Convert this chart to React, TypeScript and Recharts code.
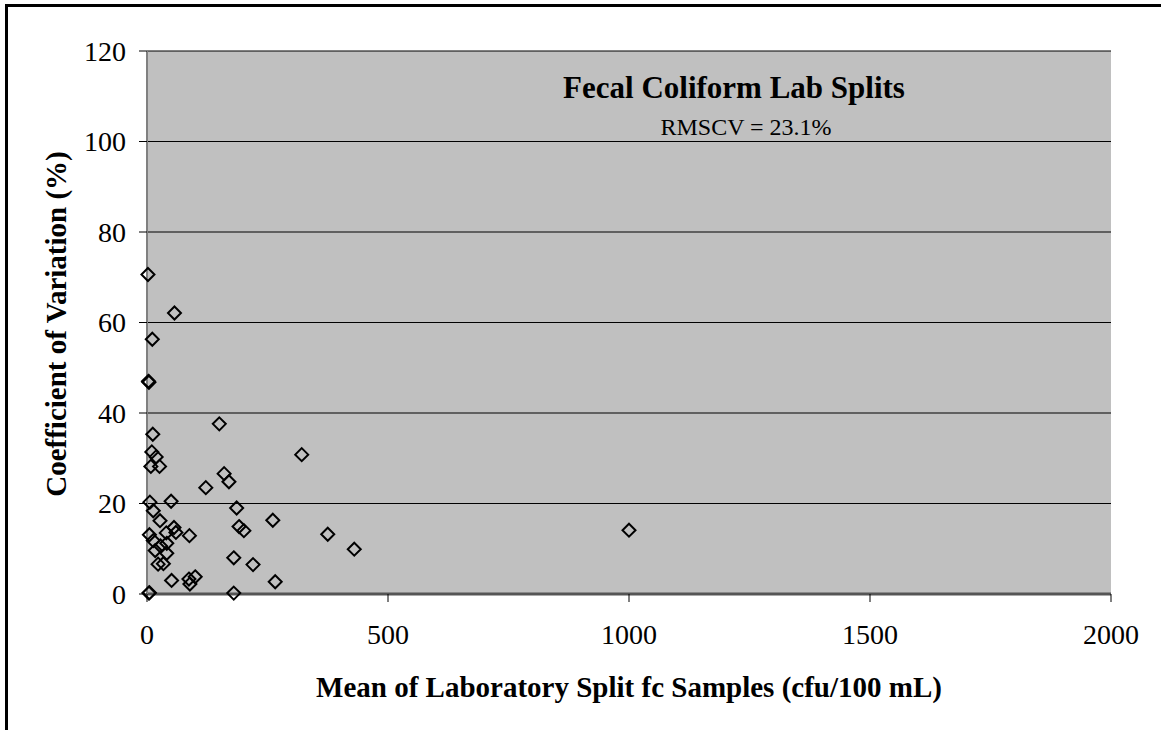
import { ScatterChart, Scatter, XAxis, YAxis, CartesianGrid, Label } from "recharts";

// mean of the lab split pair (cfu/100 mL)
const meanFc = [
  2, 57, 11, 3, 4, 150, 12, 10, 19, 321, 8, 26, 160, 170, 122, 6, 50, 13, 186,
  27, 261, 191, 201, 56, 40, 60, 88, 5, 375, 1000, 13, 41, 28, 17, 41, 430, 180,
  23, 34, 220, 51, 87, 100, 89, 266, 4, 5, 180,
];

// coefficient of variation (%)
const cvPct = [
  70.6, 62.1, 56.3, 47.0, 46.8, 37.6, 35.3, 31.4, 30.3, 30.8, 28.2, 28.2, 26.6,
  24.8, 23.5, 20.3, 20.5, 18.4, 19.0, 16.2, 16.3, 14.9, 14.0, 14.7, 13.5, 13.6,
  12.9, 13.1, 13.2, 14.1, 11.8, 11.2, 10.6, 9.6, 9.0, 9.9, 8.0, 6.6, 6.7, 6.5,
  3.0, 3.3, 3.8, 2.2, 2.7, 0.2, 0.3, 0.2,
];

const xTicks = [0, 500, 1000, 1500, 2000];
const yTicks = [0, 20, 40, 60, 80, 100, 120];

const points = meanFc.map((x, i) => ({ x, cv: cvPct[i] }));

const serif = "'Times New Roman', 'Liberation Serif', serif";

const Diamond = (props: any) => {
  const { cx, cy } = props;
  const r = 6.5;
  return (
    <path
      d={`M${cx},${cy - r}L${cx + r},${cy}L${cx},${cy + r}L${cx - r},${cy}Z`}
      fill="none"
      stroke="#000"
      strokeWidth={2}
    />
  );
};

export default function App() {
  return (
    <div
      style={{
        position: "absolute",
        left: 0,
        top: 0,
        width: 1161,
        height: 730,
        background: "#fff",
        overflow: "hidden",
        fontFamily: serif,
      }}
    >
      <div
        style={{
          position: "absolute",
          left: 5,
          top: 4,
          width: 1300,
          height: 900,
          border: "3px solid #000",
        }}
      />
      <ScatterChart
        width={1161}
        height={730}
        margin={{ top: 51, right: 50, bottom: 76, left: 67 }}
        style={{ position: "absolute", left: 0, top: 0 }}
      >
        <CartesianGrid
          vertical={false}
          stroke="#000"
          strokeWidth={1}
          fill="#c0c0c0"
          fillOpacity={1}
        />
        <XAxis
          type="number"
          dataKey="x"
          domain={[0, 2000]}
          ticks={xTicks}
          height={60}
          axisLine={{ stroke: "#555", strokeWidth: 3 }}
          tickLine={{ stroke: "#000" }}
          tickSize={8}
          tickMargin={22}
          tick={{ fill: "#000", fontSize: 28, fontFamily: serif }}
        >
          <Label
            content={() => (
              <text
                x={629}
                y={697}
                textAnchor="middle"
                fontFamily={serif}
                fontWeight="bold"
                fontSize={29}
                fill="#000"
              >
                Mean of Laboratory Split fc Samples (cfu/100 mL)
              </text>
            )}
          />
        </XAxis>
        <XAxis
          xAxisId="top"
          orientation="top"
          type="number"
          domain={[0, 2000]}
          height={0}
          tick={false}
          tickLine={false}
          axisLine={{ stroke: "#808080", strokeWidth: 2 }}
        />
        <YAxis
          type="number"
          dataKey="cv"
          domain={[0, 120]}
          ticks={yTicks}
          width={80}
          axisLine={{ stroke: "#808080", strokeWidth: 2 }}
          tickLine={{ stroke: "#000" }}
          tickSize={8}
          tickMargin={13}
          tick={{ fill: "#000", fontSize: 28, fontFamily: serif }}
        >
          <Label
            content={() => (
              <text
                x={66}
                y={324}
                transform="rotate(-90, 66, 324)"
                textAnchor="middle"
                fontFamily={serif}
                fontWeight="bold"
                fontSize={29}
                fill="#000"
              >
                Coefficient of Variation (%)
              </text>
            )}
          />
        </YAxis>
        <YAxis
          yAxisId="right"
          orientation="right"
          type="number"
          domain={[0, 120]}
          width={0}
          tick={false}
          tickLine={false}
          axisLine={{ stroke: "#808080", strokeWidth: 2 }}
        />
        <Scatter data={points} shape={Diamond} isAnimationActive={false} />
      </ScatterChart>
      <div
        style={{
          position: "absolute",
          left: 734,
          top: 70,
          transform: "translateX(-50%)",
          whiteSpace: "nowrap",
          fontWeight: "bold",
          fontSize: 31,
          lineHeight: "36px",
        }}
      >
        Fecal Coliform Lab Splits
      </div>
      <div
        style={{
          position: "absolute",
          left: 746,
          top: 113,
          transform: "translateX(-50%)",
          whiteSpace: "nowrap",
          fontSize: 24,
          lineHeight: "28px",
        }}
      >
        RMSCV = 23.1%
      </div>
    </div>
  );
}
